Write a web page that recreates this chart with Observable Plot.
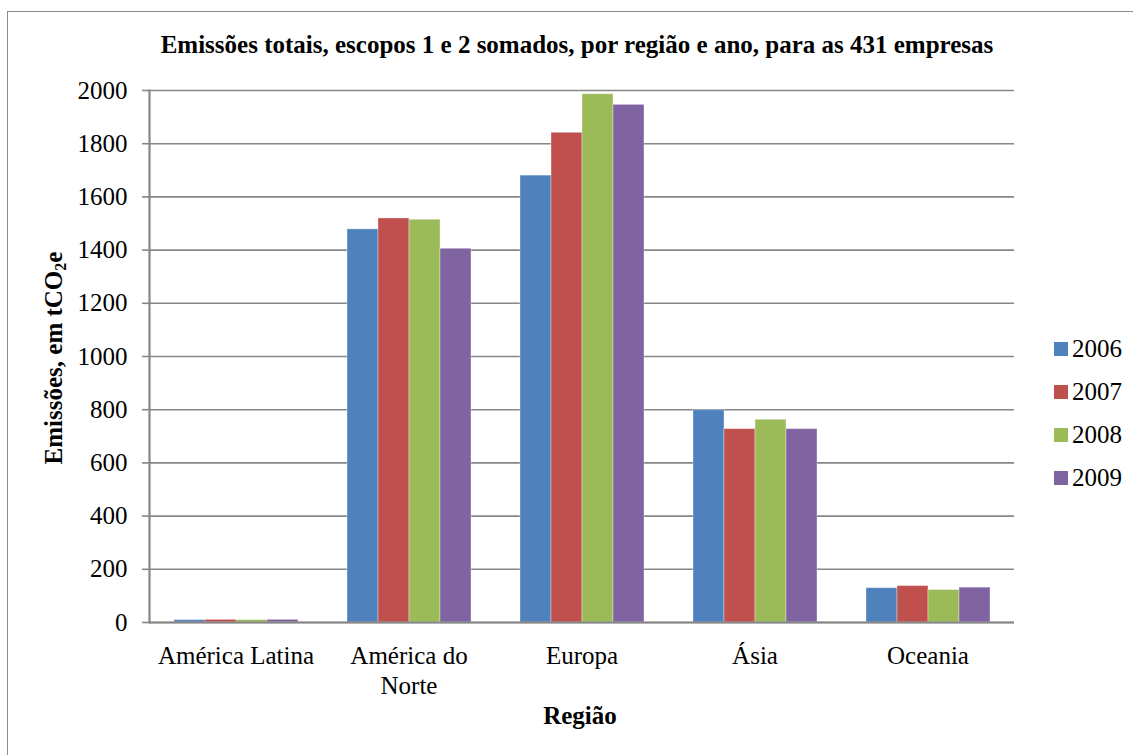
<!DOCTYPE html>
<html>
<head>
<meta charset="utf-8">
<script src="https://cdn.jsdelivr.net/npm/d3@7"></script>
<script src="https://cdn.jsdelivr.net/npm/@observablehq/plot@0.6"></script>
<style>
  html, body { margin: 0; padding: 0; background: #fff; }
  #wrap { position: relative; width: 1133px; height: 755px; overflow: hidden; font-family: "Liberation Serif", "Times New Roman", "DejaVu Serif", serif; color: #000; }
  #border { position: absolute; left: 7px; top: 11px; width: 1200px; height: 800px; border-left: 1.5px solid #8a8a8a; border-top: 1.5px solid #8a8a8a; }
  #chart { position: absolute; left: 0; top: 0; }
  #title { position: absolute; left: 0; top: 33px; width: 1154px; text-align: center; font-size: 25px; line-height: 24px; font-weight: bold; white-space: nowrap; }
  #xtitle { position: absolute; left: 0; top: 704px; width: 1160px; text-align: center; font-size: 25px; line-height: 24px; font-weight: bold; }
  #ytitle { position: absolute; left: 54px; top: 358px; width: 320px; height: 24px; line-height: 24px; font-size: 25px; font-weight: bold; text-align: center; white-space: nowrap; transform: translate(-50%, -50%) rotate(-90deg); }
  #ytitle sub { font-size: 16px; vertical-align: -4px; line-height: 0; }
  #legend { position: absolute; left: 1054px; top: 327px; }
  .row { display: flex; align-items: center; height: 43px; font-size: 25px; }
  .sw { width: 14px; height: 14px; margin-right: 4px; }
  svg text { font-family: "Liberation Serif", "Times New Roman", "DejaVu Serif", serif; }
</style>
</head>
<body>
<div id="wrap">
  <div id="border"></div>
  <div id="chart"></div>
  <div id="title">Emissões totais, escopos 1 e 2 somados, por região e ano, para as 431 empresas</div>
  <div id="ytitle">Emissões, em tCO<sub>2</sub>e</div>
  <div id="xtitle">Região</div>
  <div id="legend"></div>
</div>
<script>
const regions = ["América Latina", "América do Norte", "Europa", "Ásia", "Oceania"];
const regionLabels = ["América Latina", "América do\nNorte", "Europa", "Ásia", "Oceania"];
const years = ["2006", "2007", "2008", "2009"];
const v2006 = [9, 1478, 1680, 798, 129];
const v2007 = [10, 1519, 1841, 727, 137];
const v2008 = [9, 1514, 1986, 762, 122];
const v2009 = [10, 1405, 1946, 727, 131];
const yTicks = [0, 200, 400, 600, 800, 1000, 1200, 1400, 1600, 1800, 2000];
const colors = ["#4F81BD", "#C0504D", "#9BBB59", "#8064A2"];

const series = [v2006, v2007, v2008, v2009];
const data = [];
regions.forEach((r, i) => years.forEach((y, j) => data.push({region: r, year: y, value: series[j][i]})));

const grid = "#868686";
const serif = '"Liberation Serif", "Times New Roman", "DejaVu Serif", serif';
const chart = Plot.plot({
  width: 1133,
  height: 755,
  marginLeft: 147,
  marginRight: 118,
  marginTop: 90,
  marginBottom: 133,
  style: {fontFamily: serif, fontSize: "25px", color: "#000", background: "transparent"},
  fx: {domain: regions, padding: 0, axis: null, label: null},
  x: {type: "band", domain: years, paddingInner: 0, paddingOuter: 0.756, axis: null},
  y: {domain: [0, 2000], axis: null},
  color: {domain: years, range: colors},
  marks: [
    Plot.gridY(yTicks, {stroke: grid, strokeOpacity: 1, strokeWidth: 1.6}),
    Plot.barY(data, {fx: "region", x: "year", y: "value", fill: "year", stroke: "#ffffff", strokeOpacity: 0.35, strokeWidth: 1}),
    Plot.ruleY([0], {stroke: grid, strokeWidth: 2.2}),
    Plot.frame({anchor: "left", stroke: grid, strokeWidth: 2.2, facetAnchor: "left"}),
    Plot.axisY(yTicks, {tickSize: 7, tickPadding: 15, fontSize: 25, fontFamily: serif, stroke: grid, strokeWidth: 1.6, fill: "#000", label: null, tickFormat: d => String(d)}),
    Plot.text(regions, {fx: d => d, text: (d, i) => regionLabels[i], frameAnchor: "bottom", lineAnchor: "top", dy: 20, fontSize: 25, fontFamily: serif, lineHeight: 1.2, fill: "#000"})
  ]
});
document.getElementById("chart").appendChild(chart);

const legend = document.getElementById("legend");
years.forEach((y, i) => {
  const row = document.createElement("div");
  row.className = "row";
  const sw = document.createElement("div");
  sw.className = "sw";
  sw.style.background = colors[i];
  const t = document.createElement("span");
  t.textContent = y;
  row.appendChild(sw);
  row.appendChild(t);
  legend.appendChild(row);
});
</script>
</body>
</html>
